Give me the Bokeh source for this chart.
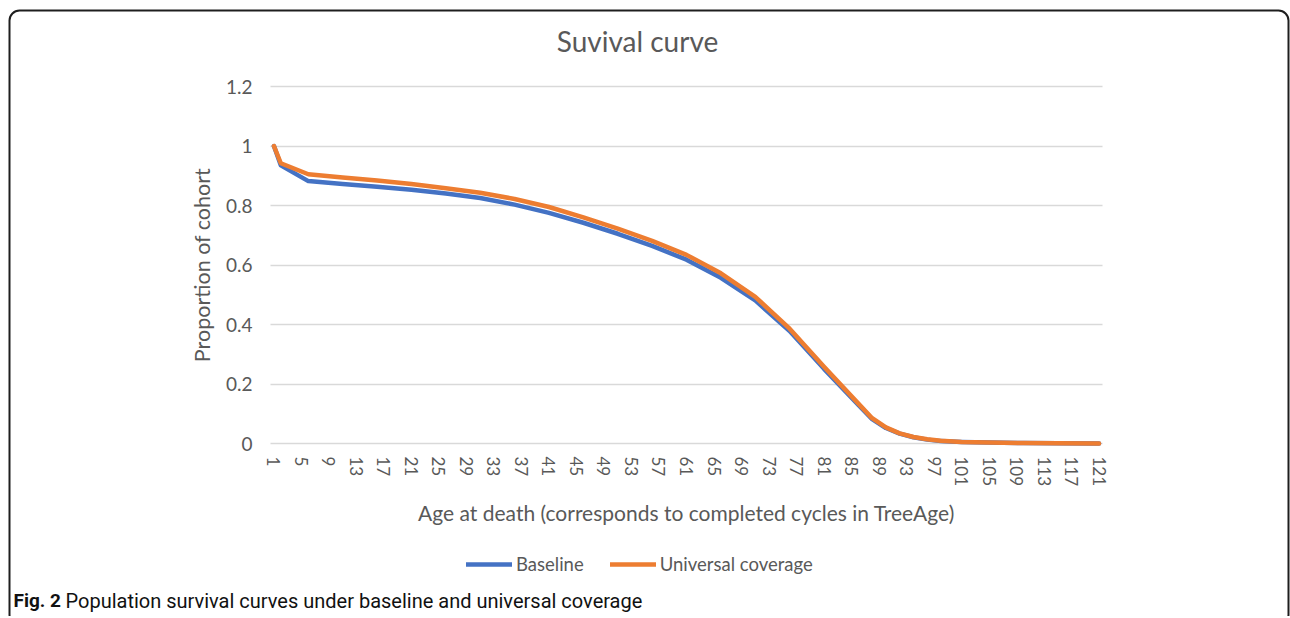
from bokeh.plotting import figure
from bokeh.models import (Range1d, FixedTicker, NumeralTickFormatter, Label,
                          Legend, LegendItem, LinearAxis, Grid, BoxAnnotation)
from bokeh.embed import file_html
from bokeh.resources import INLINE

# ---- data ----
ages = [1, 2, 6, 11, 16, 21, 26, 31, 36, 41, 46, 51, 56, 61, 66, 71, 76, 81,
        86, 88, 90, 92, 94, 96, 98, 101, 105, 110, 115, 121]
baseline = [1.0, 0.935, 0.882, 0.872, 0.863, 0.853, 0.840, 0.825, 0.803, 0.775,
            0.742, 0.705, 0.664, 0.618, 0.557, 0.481, 0.378, 0.251,
            0.130, 0.082, 0.052, 0.033, 0.021, 0.013, 0.008, 0.005, 0.003,
            0.0015, 0.0008, 0.0003]
universal = [1.0, 0.942, 0.905, 0.894, 0.884, 0.872, 0.858, 0.843, 0.822, 0.795,
             0.760, 0.722, 0.681, 0.634, 0.572, 0.493, 0.386, 0.258,
             0.134, 0.085, 0.054, 0.034, 0.022, 0.014, 0.009, 0.005, 0.003,
             0.0015, 0.0008, 0.0003]
x_tick_labels = list(range(1, 122, 4))
y_ticks = [0, 0.2, 0.4, 0.6, 0.8, 1, 1.2]
series_names = ["Baseline", "Universal coverage"]
series_colors = ["#4472C4", "#ED7D31"]
title_text = "Suvival curve"
x_title = "Age at death (corresponds to completed cycles in TreeAge)"
y_title = "Proportion of cohort"
caption_bold = "Fig. 2"
caption_text = "Population survival curves under baseline and universal coverage"

FONT = "Lato"
GREY = "#595959"

# ---- layout geometry (canvas pixels) ----
W, H = 1290, 616
PL, PR, PT, PB = 270, 1102, 86, 443          # plot area edges
X0, X1 = 0.5, 121.5                           # category extent
Y0, Y1 = 0.0, 1.2
sx = (PR - PL) / (X1 - X0)
sy = (PB - PT) / (Y1 - Y0)
x_range = Range1d(X0 - PL / sx, X1 + (W - PR) / sx)
y_range = Range1d(Y0 - (H - PB) / sy, Y1 + PT / sy)

p = figure(width=W, height=H, x_range=x_range, y_range=y_range,
           x_axis_type=None, y_axis_type=None, output_backend="svg",
           toolbar_location=None, min_border=0)
p.outline_line_color = None
p.background_fill_color = "white"
p.border_fill_color = "white"

# horizontal gridlines limited to the plot area
grid = Grid(dimension=1, ticker=FixedTicker(ticks=y_ticks),
            grid_line_color="#D9D9D9", grid_line_width=1.5)
if "cross_bounds" in Grid.properties():
    grid.cross_bounds = (X0, X1)
p.add_layout(grid)

# axes
xaxis = LinearAxis(fixed_location=Y0, ticker=FixedTicker(ticks=x_tick_labels),
                   axis_label=x_title, bounds=(X0, X1))
yaxis = LinearAxis(fixed_location=X0, ticker=FixedTicker(ticks=y_ticks),
                   formatter=NumeralTickFormatter(format="0.[0]"),
                   axis_label=y_title, bounds=(Y0, Y1))
for ax in (xaxis, yaxis):
    ax.axis_line_color = None
    ax.major_tick_line_color = None
    ax.minor_tick_line_color = None
    ax.major_tick_out = 0
    ax.major_tick_in = 0
    ax.major_label_text_font = FONT
    ax.major_label_text_color = GREY
    ax.axis_label_text_font = FONT
    ax.axis_label_text_font_style = "normal"
    ax.axis_label_text_color = GREY
xaxis.axis_label_text_font_size = "21px"
yaxis.axis_label_text_font_size = "21.5px"
xaxis.major_label_orientation = "vertical"
xaxis.major_label_text_font_size = "17px"
yaxis.major_label_text_font_size = "19px"
yaxis.major_label_standoff = 18
yaxis.axis_label_standoff = 8
xaxis.major_label_standoff = 13
xaxis.axis_label_standoff = 11
p.add_layout(xaxis, "below")
p.add_layout(yaxis, "left")

r1 = p.line(ages, baseline, line_color=series_colors[0], line_width=4.5,
            line_join="round", line_cap="round")
r2 = p.line(ages, universal, line_color=series_colors[1], line_width=4.5,
            line_join="round", line_cap="round")

legend = Legend(items=[LegendItem(label=series_names[0], renderers=[r1]),
                       LegendItem(label=series_names[1], renderers=[r2])],
                orientation="horizontal", location=(466, H - 575))
legend.border_line_color = None
legend.background_fill_alpha = 0
legend.label_text_font = FONT
legend.label_text_font_size = "18.5px"
legend.label_text_color = GREY
legend.glyph_width = 46
legend.glyph_height = 20
legend.label_standoff = 4
legend.spacing = 26
legend.padding = 0
legend.margin = 0
p.add_layout(legend)

title = Label(x=637, y=H - 40, x_units="screen", y_units="screen",
              text=title_text, text_align="center", text_baseline="middle",
              text_font=FONT, text_font_size="28px", text_color=GREY)
p.add_layout(title)

cap1 = Label(x=13, y=H - 600, x_units="screen", y_units="screen", text=caption_bold,
             text_align="left", text_baseline="middle", text_font="Roboto",
             text_font_size="19px", text_font_style="bold", text_color="#111111")
cap2 = Label(x=65, y=H - 600, x_units="screen", y_units="screen", text=caption_text,
             text_align="left", text_baseline="middle", text_font="Roboto",
             text_font_size="20px", text_color="#111111")
p.add_layout(cap1)
p.add_layout(cap2)

# rounded outer frame
frame_box = BoxAnnotation(left=9, right=1288, top=H - 10, bottom=-8,
                          left_units="screen", right_units="screen",
                          top_units="screen", bottom_units="screen",
                          fill_alpha=0, line_color="#1e1e1e", line_alpha=1.0,
                          line_width=2, border_radius=10)
p.add_layout(frame_box)

open("out.html", "w").write(file_html(p, INLINE))
